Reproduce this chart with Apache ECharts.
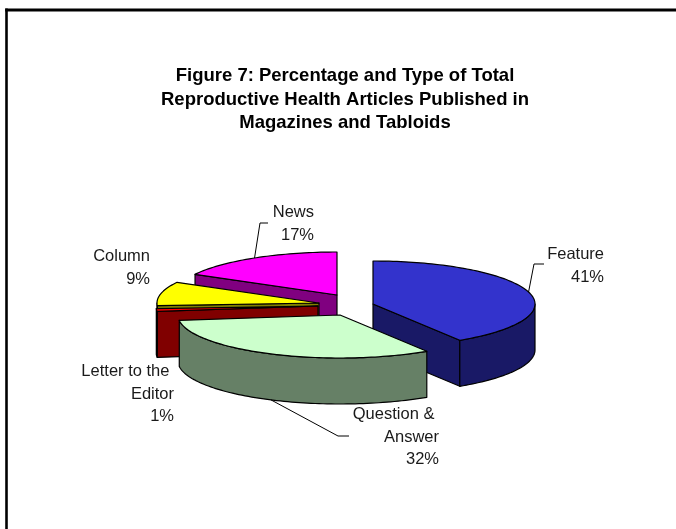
<!DOCTYPE html>
<html><head><meta charset="utf-8">
<style>html,body{margin:0;padding:0;background:#fff}#c{width:676px;height:529px}</style>
<script src="https://cdn.jsdelivr.net/npm/echarts@6/dist/echarts.min.js"></script>
</head><body><div id="c"></div>
<script>
// ---- data ----
const categories = ['Feature', 'Question & Answer', 'Letter to the Editor', 'Column', 'News'];
const values = [41, 32, 1, 9, 17];
const labelLines = [['Feature','41%'], ['Question & ','Answer','32%'], ['Letter to the ','Editor','1%'], ['Column','9%'], ['News','17%']];
const chartTitle = 'Figure 7: Percentage and Type of Total\nReproductive Health Articles Published in\nMagazines and Tabloids';

// ---- layout and style ----
const rx = 162, ry = 43, depth = 46;
const centers = [[373,304],[340,315],[318,306],[319,303],[337,295]];
const topColors = ['#3333CC','#CCFFCC','#FF0000','#FFFF00','#FF00FF'];
const sideColors = ['#191966','#668066','#800000','#808000','#800080'];
const labelPos = [[604,243.5],[439,403],[174,360],[150,245.5],[314,201]];
const leaders = [[[534,264],[544,264]],[[338,436],[349,436]],null,null,[[260,223],[268,223]]];
const drawOrder = [0,4,3,2,1];
const TAU = Math.PI*2, textColor = '#1a1a1a';

const total = values.reduce((a,b)=>a+b,0);
const starts = []; values.reduce((acc,v,i)=>{starts[i]=acc;return acc+v;},0);
const pt = (c,t,dy)=>[c[0]+rx*Math.sin(t), c[1]-ry*Math.cos(t)+(dy||0)];
function arc(c,a,b,dy){const n=Math.max(4,Math.ceil(Math.abs(b-a)*40));const p=[];for(let i=0;i<=n;i++)p.push(pt(c,a+(b-a)*i/n,dy));return p;}
const poly=(points,fill)=>({type:'polygon',shape:{points},style:{fill,stroke:'#000',lineWidth:1.2,lineJoin:'round'}});

function renderItem(params,api){
  const i = drawOrder[params.dataIndex];
  const a = starts[i]/total*TAU, b = (starts[i]+values[i])/total*TAU, c = centers[i];
  const kids = [];
  const cut = t => { const p=pt(c,t); kids.push(poly([c,p,[p[0],p[1]+depth],[c[0],c[1]+depth]],sideColors[i])); };
  // a cut face looks at the viewer when the solid lies behind it
  if (b>0 && b<Math.PI) cut(b);
  if (a>Math.PI) cut(a);
  // outer wall on the front half of the ellipse
  const fa = Math.max(a,Math.PI/2), fb = Math.min(b,Math.PI*1.5);
  if (fb>fa) { kids.push(poly(arc(c,fa,fb).concat(arc(c,fb,fa,depth)),sideColors[i])); }
  kids.push(poly([c].concat(arc(c,a,b)),topColors[i]));
  return {type:'group',children:kids};
}

function leaderFor(i){
  if(!leaders[i]) return null;
  const t=(starts[i]+values[i]/2)/total*TAU, s=Math.cos(t)<0?depth:0;
  return [pt(centers[i],t,s)].concat(leaders[i]);
}
const graphics = [
  {type:'rect',shape:{x:5.2,y:8.6,width:671,height:3},style:{fill:'#000'},z:1},
  {type:'rect',shape:{x:5.2,y:8.6,width:2.6,height:521},style:{fill:'#000'},z:1}
];
values.forEach((v,i)=>{
  const l=leaderFor(i);
  if(l) graphics.push({type:'polyline',shape:{points:l},style:{stroke:'#000',lineWidth:1,fill:null},z:5});
  const [x,y]=labelPos[i];
  graphics.push({type:'text',x,y,z:6,style:{text:labelLines[i].join('\n'),x:0,y:0,align:'right',verticalAlign:'top',fill:textColor,font:'16.5px "Liberation Sans"',lineHeight:22.7}});
});

const chart = echarts.init(document.getElementById('c'),null,{renderer:'canvas'});
chart.setOption({
  animation:false,
  backgroundColor:'#fff',
  title:{text:chartTitle,left:345,top:64.5,padding:0,textAlign:'center',textStyle:{fontFamily:'Liberation Sans',fontWeight:'bold',fontSize:18.5,lineHeight:23.3,color:'#000'}},
  graphic:graphics,
  series:[{type:'custom',coordinateSystem:'none',renderItem,silent:true,z:3,
    data:drawOrder.map(i=>({name:categories[i],value:values[i]}))}]
});
</script></body></html>
